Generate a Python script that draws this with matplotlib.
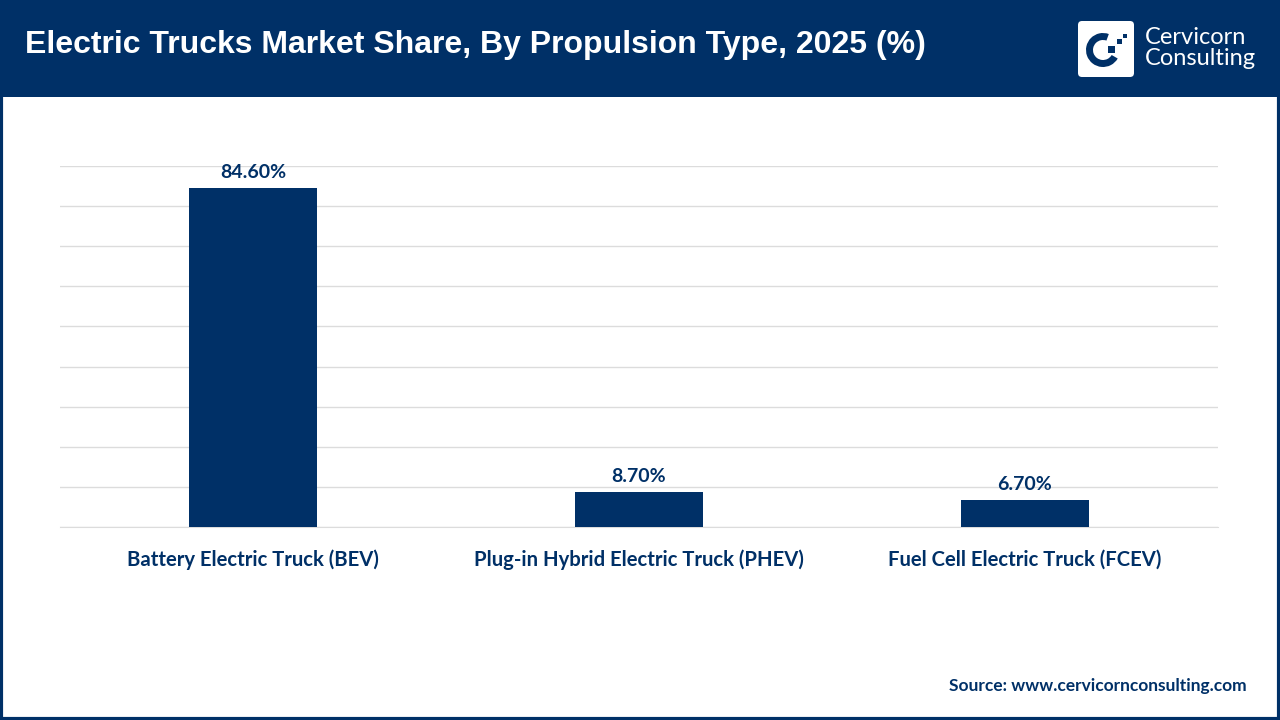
import matplotlib.pyplot as plt
from matplotlib.patches import Rectangle, FancyBboxPatch, Wedge

# data
categories = ['Battery Electric Truck (BEV)', 'Plug-in Hybrid Electric Truck (PHEV)',
              'Fuel Cell Electric Truck (FCEV)']
shares = [84.6, 8.7, 6.7]
value_labels = ['84.60%', '8.70%', '6.70%']

navy = '#003067'
grid_col = '#dcdcdc'

fig = plt.figure(figsize=(12.8, 7.2), dpi=100)
fig.patch.set_facecolor('white')

# header band
fig.patches.append(Rectangle((0, 1 - 97 / 720), 1, 97 / 720, transform=fig.transFigure,
                             facecolor=navy, edgecolor='none', zorder=0))
# outer frame
fig.patches.append(Rectangle((0.001, 0.002), 0.998, 0.996, transform=fig.transFigure,
                             facecolor='none', edgecolor=navy, linewidth=3, zorder=5))

fig.text(25 / 1280, 1 - 45 / 720, 'Electric Trucks Market Share, By Propulsion Type, 2025 (%)',
         color='white', fontsize=23, fontweight='bold', family='Liberation Sans',
         va='center', ha='left')

# logo
lax = fig.add_axes([1078 / 1280, 1 - 77 / 720, 56 / 1280, 56 / 720])
lax.set_zorder(3)
lax.set_xlim(0, 56)
lax.set_ylim(0, 56)
lax.axis('off')
lax.add_patch(FancyBboxPatch((0, 0), 56, 56, boxstyle='round,pad=0,rounding_size=4',
                             facecolor='white', edgecolor='none'))
lax.add_patch(Wedge((25, 27), 17, 70, 330, width=7, facecolor=navy, edgecolor='none'))
lax.add_patch(Rectangle((30, 24), 7, 7, facecolor=navy, edgecolor='none'))
lax.add_patch(Rectangle((39, 33), 5, 5, facecolor=navy, edgecolor='none'))
lax.add_patch(Rectangle((45, 39), 4, 4, facecolor=navy, edgecolor='none'))
fig.text(1145 / 1280, 1 - 48 / 720, 'Cervicorn\nConsulting', color='white', fontsize=17,
         family='Lato', va='center', ha='left', linespacing=1.0)

# chart
ax = fig.add_axes([60 / 1280, 1 - 527 / 720, 1158 / 1280, 361 / 720])
x = range(len(categories))
ax.bar(x, shares, width=0.33, color=navy, zorder=3)
ax.set_xlim(-0.5, 2.5)
ax.set_ylim(0, 90)
ax.set_yticks(range(0, 91, 10))
ax.yaxis.grid(True, color=grid_col, linewidth=1)
ax.set_axisbelow(True)
ax.tick_params(axis='y', left=False, labelleft=False)
ax.tick_params(axis='x', bottom=False, pad=13)
ax.set_xticks(list(x))
ax.set_xticklabels(categories, fontsize=14.6, fontweight='bold', color=navy, family='Lato')
for s in ['top', 'right', 'left']:
    ax.spines[s].set_visible(False)
ax.spines['bottom'].set_color(grid_col)

for i, v in enumerate(shares):
    ax.annotate(value_labels[i], (i, v), xytext=(0, 5), textcoords='offset points',
                ha='center', va='bottom', fontsize=14, fontweight='bold', color=navy,
                family='Lato')

fig.text(1247 / 1280, 1 - 686 / 720, 'Source: www.cervicornconsulting.com', color=navy,
         fontsize=12.5, fontweight='bold', family='Lato', ha='right', va='center')

plt.savefig('out.png', dpi=100)
